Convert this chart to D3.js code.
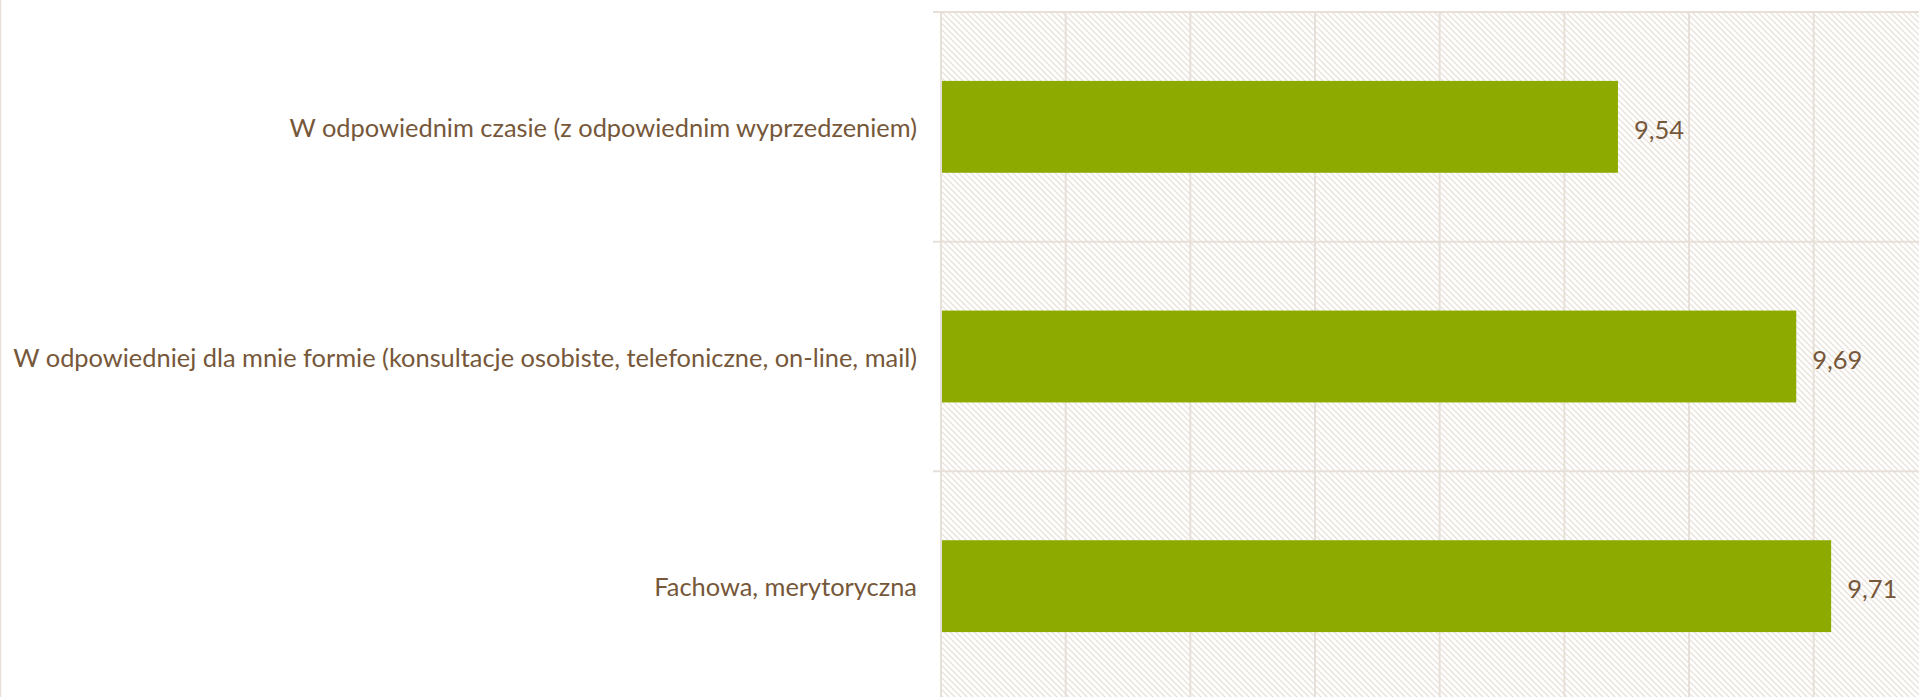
<!DOCTYPE html>
<html>
<head>
<meta charset="utf-8">
<script src="https://cdn.jsdelivr.net/npm/d3@7"></script>
<style>
  html, body { margin: 0; padding: 0; background: #ffffff; overflow: hidden; }
  svg { display: block; }
</style>
</head>
<body>
<svg id="chart" width="1919" height="697"></svg>
<script>
const categories = [
  "W odpowiednim czasie (z odpowiednim wyprzedzeniem)",
  "W odpowiedniej dla mnie formie (konsultacje osobiste, telefoniczne, on-line, mail)",
  "Fachowa, merytoryczna"
];
const values = [9.543, 9.686, 9.714];
const xDomain = [9, 10];
const xTicks = [9, 9.1, 9.2, 9.3, 9.4, 9.5, 9.6, 9.7, 9.8, 9.9, 10];

const W = 1919, H = 697;
const plotLeft = 941, plotTop = 12, plotBottom = 701;
const plotRight = plotLeft + 1246.7;

const textColor = "#76573a";
const gridColor = "#e7e0d8";
const barColor = "#8caa00";
const font = "Lato, 'Open Sans', sans-serif";

const svg = d3.select("#chart");

const defs = svg.append("defs");
const P = 6;
const pat = defs.append("pattern")
  .attr("id", "hatch")
  .attr("patternUnits", "userSpaceOnUse")
  .attr("width", P).attr("height", P);
pat.append("rect").attr("width", P).attr("height", P).attr("fill", "#ffffff");
pat.append("path")
  .attr("d", `M-1,-1 L${P+1},${P+1} M-1,${P-1} L1,${P+1} M${P-1},-1 L${P+1},1`)
  .attr("stroke", "#e9e2da")
  .attr("stroke-width", 1.3);

const x = d3.scaleLinear().domain(xDomain).range([plotLeft, plotRight]);
const y = d3.scaleBand().domain(categories).range([plotTop, plotBottom])
  .paddingInner(0.6).paddingOuter(0.3);

// left chart-area border
svg.append("line").attr("x1", 0.5).attr("x2", 0.5).attr("y1", 0).attr("y2", H)
  .attr("stroke", gridColor).attr("stroke-width", 1.5);

// plot area hatch
svg.append("rect")
  .attr("x", plotLeft).attr("y", plotTop)
  .attr("width", plotRight - plotLeft).attr("height", plotBottom - plotTop)
  .attr("fill", "url(#hatch)");

// vertical gridlines
svg.append("g").selectAll("line").data(xTicks).join("line")
  .attr("x1", d => x(d)).attr("x2", d => x(d))
  .attr("y1", plotTop).attr("y2", plotBottom)
  .attr("stroke", gridColor).attr("stroke-width", 2);

// horizontal category separators with ticks
const bounds = d3.range(categories.length + 1).map(i => y.range()[0] + i * y.step());
svg.append("g").selectAll("line").data(bounds).join("line")
  .attr("x1", plotLeft - 8).attr("x2", W)
  .attr("y1", d => d).attr("y2", d => d)
  .attr("stroke", gridColor).attr("stroke-width", 2);

// bars
svg.append("g").selectAll("rect").data(categories).join("rect")
  .attr("x", x(xDomain[0]) + 1)
  .attr("y", d => y(d))
  .attr("width", (d, i) => x(values[i]) - x(xDomain[0]) - 1)
  .attr("height", y.bandwidth())
  .attr("fill", barColor);

// category labels
svg.append("g").selectAll("text").data(categories).join("text")
  .attr("x", plotLeft - 24)
  .attr("y", d => y(d) + y.bandwidth() / 2)
  .attr("text-anchor", "end")
  .attr("dominant-baseline", "central")
  .attr("fill", textColor)
  .style("font-family", font)
  .style("font-size", "25.4px")
  .text(d => d);

// value labels
const fmt = v => d3.format(".2f")(v).replace(".", ",");
svg.append("g").selectAll("text").data(categories).join("text")
  .attr("x", (d, i) => x(values[i]) + 16)
  .attr("y", d => y(d) + y.bandwidth() / 2 + 2)
  .attr("dominant-baseline", "central")
  .attr("fill", textColor)
  .style("font-family", font)
  .style("font-size", "25.5px")
  .text((d, i) => fmt(values[i]));
</script>
</body>
</html>
